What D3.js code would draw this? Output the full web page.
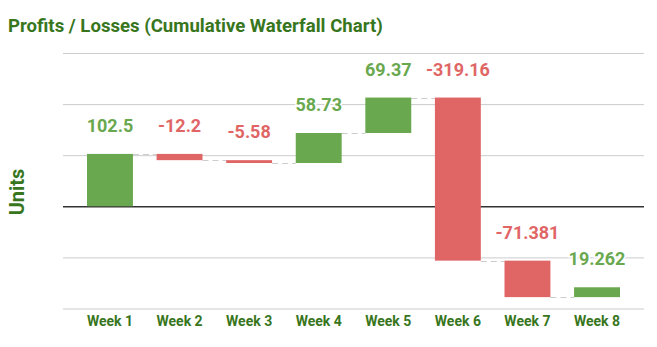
<!DOCTYPE html>
<html><head><meta charset="utf-8">
<script src="https://cdn.jsdelivr.net/npm/d3@7"></script>
<style>
html,body{margin:0;padding:0;background:#fff;}
svg{display:block;font-family:Roboto,"Noto Sans",sans-serif;}
</style></head>
<body><svg id="c" width="657" height="347"></svg>
<script>
const weeks = ["Week 1","Week 2","Week 3","Week 4","Week 5","Week 6","Week 7","Week 8"];
const changes = [102.5, -12.2, -5.58, 58.73, 69.37, -319.16, -71.381, 19.262];
const gridTicks = [-200, -100, 0, 100, 200, 300];

(function(){
const svg = d3.select("#c");
const mLeft = 63, mRight = 644, mTop = 53, mBottom = 308.5;

let run = 0;
const rows = weeks.map((w, i) => {
  const start = run; run += changes[i];
  return {week: w, value: changes[i], start, end: run};
});

const x = d3.scaleBand().domain(weeks).range([mLeft, mRight]).paddingInner(0.34).paddingOuter(0.345);
const y = d3.scaleLinear().domain([-200, 300]).range([mBottom, mTop]);

// gridlines
const g = svg.append("g").attr("transform", `translate(${mLeft},0)`)
  .call(d3.axisLeft(y).tickValues(gridTicks).tickSize(-(mRight-mLeft)).tickFormat(""));
g.select(".domain").remove();
g.selectAll(".tick line").attr("stroke", d => d === 0 ? "#333" : "#ccc")
  .attr("stroke-width", d => d === 0 ? 1.5 : 1);

const green = "#6aa84f", red = "#e06666", dark = "#38761d";

// connectors
svg.append("g").selectAll("line").data(rows.slice(0, -1)).join("line")
  .attr("x1", d => x(d.week) + x.bandwidth())
  .attr("x2", (d, i) => x(weeks[i+1]))
  .attr("y1", d => Math.round(y(d.end)) + 0.5)
  .attr("y2", d => Math.round(y(d.end)) + 0.5)
  .attr("stroke", "#ccc").attr("stroke-width", 1).attr("stroke-dasharray", "6,4");

// bars
svg.append("g").selectAll("rect").data(rows).join("rect")
  .attr("x", d => x(d.week))
  .attr("width", x.bandwidth())
  .attr("y", d => y(Math.max(d.start, d.end)))
  .attr("height", d => Math.abs(y(d.start) - y(d.end)))
  .attr("fill", d => d.value >= 0 ? green : red);

// value labels
svg.append("g").selectAll("text").data(rows).join("text")
  .attr("x", d => x(d.week) + x.bandwidth()/2)
  .attr("y", d => y(Math.max(d.start, d.end)) - 22)
  .attr("text-anchor", "middle")
  .attr("font-size", 18).attr("font-weight", "bold")
  .attr("fill", d => d.value >= 0 ? green : red)
  .attr("stroke", "#fff").attr("stroke-width", 3).attr("paint-order", "stroke")
  .text(d => String(d.value));

// x axis labels
const xa = svg.append("g").attr("transform", `translate(0,${mBottom})`)
  .call(d3.axisBottom(x).tickSize(0).tickPadding(8));
xa.select(".domain").remove();
xa.selectAll("text").attr("font-size", 14).attr("font-weight", "bold")
  .attr("fill", dark).attr("font-family", "Roboto,sans-serif");

// title
svg.append("text").attr("x", 8).attr("y", 32)
  .attr("font-size", 18.6).attr("font-weight", "bold").attr("fill", dark)
  .text("Profits / Losses (Cumulative Waterfall Chart)");

// y axis title
svg.append("text").attr("transform", "translate(24,192) rotate(-90)")
  .attr("text-anchor", "middle")
  .attr("font-size", 20).attr("font-weight", "bold").attr("fill", dark)
  .text("Units");
})();
</script></body></html>
